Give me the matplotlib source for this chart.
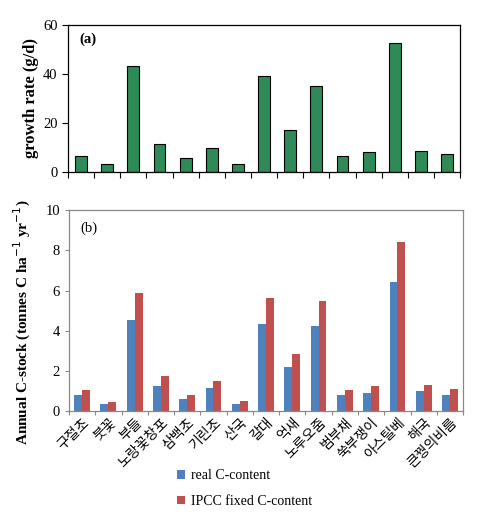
import numpy as np
import matplotlib.pyplot as plt

species = ['구절초', '붓꽃', '부들', '노랑꽃창포', '삼백초', '기린초', '산국', '갈대',
           '억새', '노루오줌', '범부채', '쑥부쟁이', '아스틸베', '해국', '큰꿩의비름']
growth = [6.5, 3.0, 43.0, 11.5, 5.8, 9.8, 3.0, 39.0, 17.0, 35.0, 6.5, 8.2, 52.5, 8.5, 7.3]
real_c = [0.8, 0.35, 4.55, 1.25, 0.6, 1.15, 0.35, 4.35, 2.2, 4.25, 0.8, 0.9, 6.4, 1.0, 0.8]
ipcc_c = [1.05, 0.45, 5.9, 1.75, 0.8, 1.5, 0.5, 5.65, 2.85, 5.5, 1.05, 1.25, 8.4, 1.3, 1.1]

plt.rcParams['font.family'] = ['Liberation Serif', 'DejaVu Serif']

fig = plt.figure(figsize=(4.89, 5.16), dpi=100)
ax1 = fig.add_axes([0.139, 0.667, 0.802, 0.285])
ax2 = fig.add_axes([0.141, 0.203, 0.806, 0.390])

x = np.arange(len(species))

# (a) growth rate
ax1.bar(x, growth, width=0.45, color='#2e8b57', edgecolor='black', linewidth=0.8)
ax1.set_xlim(-0.5, len(species) - 0.5)
ax1.set_ylim(0, 60)
ax1.set_yticks([0, 20, 40, 60])
ax1.set_xticks(np.arange(-0.5, len(species), 1.0))
ax1.set_xticklabels([])
ax1.tick_params(axis='both', direction='out', length=4, labelsize=10.5)
ax1.set_ylabel('growth rate (g/d)', fontsize=12, fontweight='bold', labelpad=3)
ax1.text(0.03, 0.88, '(a)', transform=ax1.transAxes, fontsize=10.5, fontweight='bold')
for s in ax1.spines.values():
    s.set_linewidth(0.9)

# (b) annual C-stock
w = 0.3
ax2.bar(x - w / 2, real_c, width=w, color='#4f81bd', label='real C-content')
ax2.bar(x + w / 2, ipcc_c, width=w, color='#c0504d', label='IPCC fixed C-content')
ax2.set_xlim(-0.5, len(species) - 0.5)
ax2.set_ylim(0, 10)
ax2.set_yticks([0, 2, 4, 6, 8, 10])
ax2.set_xticks(np.arange(-0.5, len(species), 1.0))
ax2.set_xticklabels([])
ax2.set_xticks(x, minor=True)
ax2.set_xticklabels(species, minor=True, rotation=45, ha='right', rotation_mode='anchor',
                    family=['Noto Sans CJK KR'], fontsize=10)
ax2.tick_params(axis='x', which='minor', length=0, pad=3)
ax2.tick_params(axis='x', which='major', direction='out', length=3, color='#888888')
ax2.tick_params(axis='y', direction='out', length=3, labelsize=10.5, color='#888888')
ax2.set_ylabel('Annual C-stock (tonnes C ha$^{-1}$ yr$^{-1}$)', fontsize=11,
               fontweight='bold', labelpad=3)
ax2.yaxis.set_label_coords(-0.09, 0.44)
ax2.text(0.03, 0.89, '(b)', transform=ax2.transAxes, fontsize=10.5)
for s in ax2.spines.values():
    s.set_color('#888888')
    s.set_linewidth(0.9)

fig.legend(loc='center', bbox_to_anchor=(0.50, 0.053), frameon=False,
           fontsize=10, handlelength=0.6, handleheight=0.6, handletextpad=0.4,
           labelspacing=0.9, ncol=1)

fig.savefig('out.png', dpi=100)
